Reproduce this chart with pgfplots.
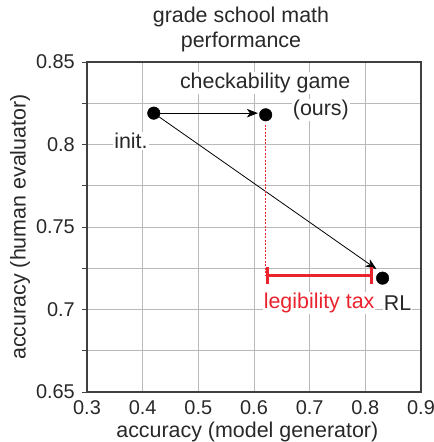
\documentclass[border=0pt]{standalone}
\usepackage{pgfplots}
\pgfplotsset{compat=1.18}
\usepackage{fontspec}
\setmainfont{Liberation Sans}
\usetikzlibrary{arrows.meta}
\definecolor{txt}{RGB}{40,40,40}
\definecolor{taxred}{RGB}{235,35,45}
\definecolor{gridc}{RGB}{185,185,185}
\newcommand{\lbl}{\fontsize{21.5}{24}\selectfont}

\begin{document}
\begin{tikzpicture}
\begin{axis}[
    name=ax,
    scale only axis,
    width=334bp, height=330bp,
    xmin=0.3, xmax=0.9, ymin=0.65, ymax=0.85,
    xtick={0.3,0.4,...,0.9},
    ytick={0.65,0.7,0.75,0.8,0.85},
    minor y tick num=1,
    grid=both,
    major grid style={gridc, line width=0.9pt},
    minor grid style={gridc, line width=0.9pt},
    axis line style={black!75, line width=1.6pt},
    tick align=outside, tick pos=left,
    major tick length=5bp, minor tick length=5bp,
    ytick style={black!75, line width=1pt},
    xtick style={draw=none},
    /pgf/number format/assume math mode=true,
    xticklabel style={/pgf/number format/fixed, /pgf/number format/precision=2,
        font=\fontsize{20}{22}\selectfont, text=txt, inner sep=0pt, anchor=north, yshift=-3bp},
    yticklabel style={/pgf/number format/fixed, /pgf/number format/precision=2,
        font=\fontsize{20}{22}\selectfont, text=txt, inner sep=0pt, anchor=east, xshift=-7bp},
    xlabel={accuracy (model generator)},
    ylabel={accuracy (human evaluator)},
    xlabel style={font=\lbl, text=txt, at={(axis description cs:0.48,-0.121)}, anchor=center},
    ylabel style={font=\lbl, text=txt, at={(axis description cs:-0.2,0.5)}, anchor=center},
    title={grade school math\\performance},
    title style={align=center, font=\fontsize{21.5}{25}\selectfont, text=txt, at={(axis description cs:0.461,1.08)}, anchor=center},
    clip=false,
]
% arrows
\addplot[black, line width=0.8pt, -{Stealth[length=11bp,width=8.5bp,inset=3bp]}] coordinates {(0.42,0.819) (0.607,0.819)};
\addplot[black, line width=0.8pt, -{Stealth[length=11bp,width=8.5bp,inset=3bp]}] coordinates {(0.42,0.819) (0.82,0.7245)};
% legibility tax
\addplot[taxred, line width=1.4pt, dash pattern=on 2pt off 1.5pt] coordinates {(0.621,0.812) (0.621,0.7205)};
\addplot[taxred, line width=3bp, {Bar[width=17bp]}-{Bar[width=17bp]}] coordinates {(0.621,0.7205) (0.813,0.7205)};
% points
\addplot[only marks, mark=*, mark size=6.3pt, black] coordinates {(0.42,0.819) (0.621,0.818) (0.831,0.719)};
% labels
\node[fill=white, inner sep=1pt, text=txt, font=\lbl] at (axis cs:0.379,0.802) {init.};
\node[fill=white, inner sep=1pt, text=txt, font=\lbl] at (axis cs:0.62,0.8373) {checkability game};
\node[fill=white, inner sep=1pt, text=txt, anchor=east, font=\lbl] at (axis cs:0.7725,0.8209) {(ours)};
\node[fill=white, inner sep=1pt, text=taxred, font=\lbl] at (axis cs:0.717,0.704) {legibility tax};
\node[fill=white, inner sep=1pt, text=txt, font=\lbl] at (axis cs:0.858,0.704) {RL};
\end{axis}
\pgfresetboundingbox
\path[use as bounding box] ([shift={(-87bp,-50bp)}]ax.south west) rectangle ([shift={(13bp,62bp)}]ax.north east);
\end{tikzpicture}
\end{document}
